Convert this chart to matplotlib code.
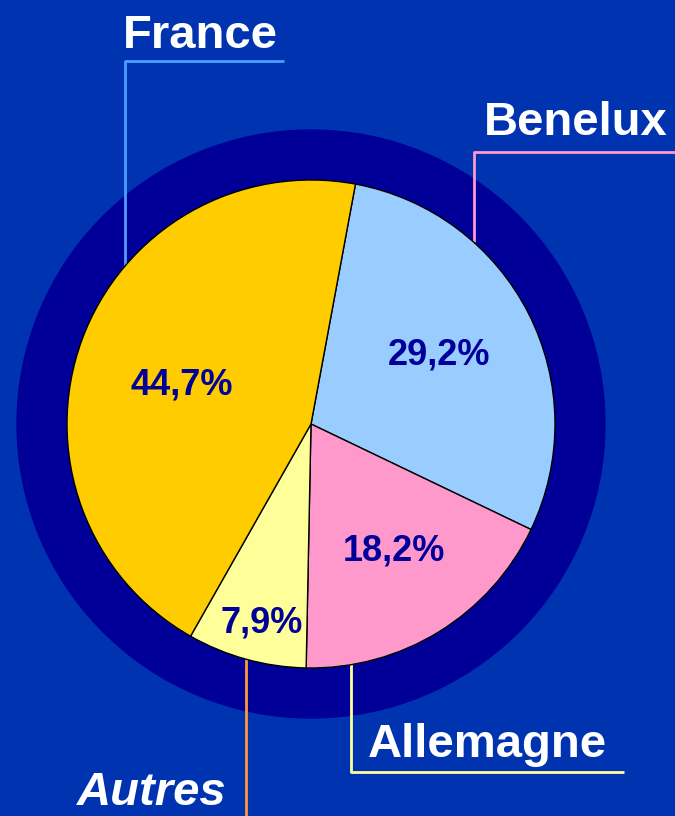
import matplotlib
matplotlib.use('Agg')
import matplotlib.pyplot as plt
from matplotlib.patches import Circle

plt.rcParams['font.family'] = ['Liberation Sans', 'DejaVu Sans']

# slices, clockwise from the top
regions = ['Benelux', 'Allemagne', 'Autres', 'France']
shares = [29.2, 18.2, 7.9, 44.7]
slice_colors = ['#99ccff', '#ff99cc', '#ffff99', '#ffcc00']
line_colors = ['#ff99cc', '#ffff99', '#ff9933', '#4d9dff']

W, H = 675, 816
BG = '#0033b0'
NAVY = '#000099'


def py(y):
    # pixel row from top -> data y
    return H - y


fig = plt.figure(figsize=(W / 100, H / 100), dpi=100, facecolor=BG)
ax = fig.add_axes([0, 0, 1, 1])
ax.set_facecolor(BG)

cx, cy = 311, py(424)
ax.add_patch(Circle((cx, cy), 294, color=NAVY, zorder=0))

wedges, _ = ax.pie(shares, colors=slice_colors, startangle=79.5, counterclock=False,
                   center=(cx, cy), radius=244,
                   wedgeprops=dict(edgecolor='black', linewidth=1))
for w in wedges:
    w.set_zorder(2)

ax.set_xlim(0, W)
ax.set_ylim(0, H)
ax.set_aspect('equal')
ax.axis('off')

# percentage labels inside the slices (centre x, baseline y)
pct_pos = [(439, 365), (394, 560), (262, 632), (182, 395)]
for v, (x, y) in zip(shares, pct_pos):
    ax.text(x, py(y), f"{v:.1f}".replace('.', ',') + '%', ha='center', va='baseline',
            fontsize=26, fontweight='bold', color=NAVY, zorder=5)

# leader lines and region names
leaders = [
    [(473.5, 242), (473.5, 152), (675, 152)],
    [(351, 664), (351, 772), (624, 772)],
    [(246, 658), (246, 816)],
    [(125, 267), (125, 61), (284, 61)],
]
name_pos = [(484, 135), (368, 757), (77, 805), (123, 48)]
for name, pts, col, (x, y) in zip(regions, leaders, line_colors, name_pos):
    xs = [p[0] for p in pts]
    ys = [py(p[1]) for p in pts]
    ax.plot(xs, ys, color=col, lw=2, zorder=1, solid_capstyle='butt')
    ax.text(x, py(y), name, ha='left', va='baseline', fontsize=34, fontweight='bold',
            fontstyle='italic' if name == 'Autres' else 'normal', color='white', zorder=5)

fig.savefig('out.png', dpi=100, facecolor=BG)
